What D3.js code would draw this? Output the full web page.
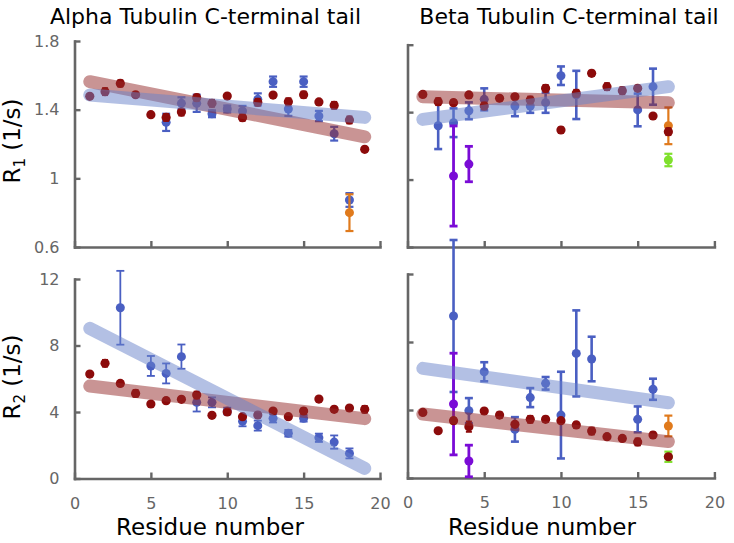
<!DOCTYPE html>
<html><head><meta charset="utf-8">
<script src="https://cdn.jsdelivr.net/npm/d3@7"></script>
<style>
body{margin:0;background:#fff}
svg{display:block}
text{font-family:"DejaVu Sans",Verdana,sans-serif}
</style>
</head><body>
<svg id="chart" width="734" height="543"></svg>
<script>
// ---------- DATA ----------
const xTicks = [0, 5, 10, 15, 20];
const r1Ticks = [0.6, 1, 1.4, 1.8];
const r2Ticks = [0, 4, 8, 12];

// Alpha R1
const aR1RedX = [1,2,3,4,5,6,7,8,9,10,11,12,13,14,15,16,17,18,19];
const aR1RedY = [1.478,1.505,1.553,1.487,1.371,1.355,1.386,1.470,1.437,1.479,1.353,1.443,1.485,1.446,1.487,1.445,1.425,1.340,1.169];
const aR1RedE = [0.01,0.02,0.018,0.01,0.01,0.02,0.02,0.018,0.02,0.01,0.018,0.02,0.01,0.02,0.018,0.01,0.02,0.02,0.01];
const aR1BlueX = [6,7,8,9,10,11,12,13,14,15,16,17,18];
const aR1BlueY = [1.326,1.437,1.437,1.376,1.404,1.392,1.460,1.563,1.404,1.563,1.363,1.260,0.874];
const aR1BlueE = [0.05,0.035,0.05,0.02,0.02,0.03,0.035,0.03,0.04,0.03,0.03,0.04,0.04];
const aR1OrangeX = [18];
const aR1OrangeY = [0.80];
const aR1OrangeE = [0.107];
const aR1FitX = [1, 19];
const aR1FitRed = [1.563, 1.242];
const aR1FitBlue = [1.485, 1.355];

// Beta R1
const bR1RedX = [1,2,3,4,5,6,7,8,9,10,11,12,13,14,15,16,17];
const bR1RedY = [1.505,1.462,1.456,1.502,1.436,1.482,1.491,1.472,1.541,1.294,1.512,1.630,1.551,1.527,1.541,1.377,1.284];
const bR1RedE = [0.015,0.02,0.015,0.01,0.02,0.01,0.015,0.02,0.02,0.015,0.02,0.015,0.02,0.02,0.015,0.01,0.02];
const bR1BlueX = [2,3,4,5,7,8,9,10,11,15,16];
const bR1BlueY = [1.319,1.337,1.408,1.476,1.436,1.436,1.456,1.616,1.502,1.413,1.551];
const bR1BlueE = [0.138,0.085,0.05,0.065,0.06,0.04,0.06,0.055,0.143,0.097,0.107];
const bR1PurpleX = [3,4];
const bR1PurpleY = [1.021,1.092];
const bR1PurpleE = [0.297,0.105];
const bR1OrangeX = [17];
const bR1OrangeY = [1.319];
const bR1OrangeE = [0.109];
const bR1GreenX = [17];
const bR1GreenY = [1.116];
const bR1GreenE = [0.037];
const bR1FitX = [1, 17];
const bR1FitRed = [1.491, 1.456];
const bR1FitBlue = [1.357, 1.551];

// Alpha R2
const aR2RedX = [1,2,3,4,5,6,7,8,9,10,11,12,13,14,15,16,17,18,19];
const aR2RedY = [6.28,6.93,5.72,5.12,4.48,4.68,4.76,5.02,3.80,4.00,3.72,3.82,4.06,3.72,4.06,4.78,4.16,4.24,4.16];
const aR2RedE = [0.1,0.2,0.15,0.2,0.1,0.15,0.1,0.2,0.1,0.1,0.1,0.15,0.1,0.1,0.15,0.1,0.15,0.1,0.2];
const aR2BlueX = [3,5,6,7,8,9,10,11,12,13,14,15,16,17,18];
const aR2BlueY = [10.27,6.77,6.32,7.33,4.58,4.58,4.06,3.44,3.18,3.62,2.72,3.62,2.45,2.19,1.51];
const aR2BlueE = [2.22,0.60,0.60,0.73,0.55,0.30,0.20,0.30,0.30,0.25,0.20,0.20,0.25,0.40,0.30];
const aR2FitX = [1, 19];
const aR2FitRed = [5.56, 3.60];
const aR2FitBlue = [9.03, 0.61];

// Beta R2
const bR2RedX = [1,2,3,4,5,6,7,8,9,10,11,12,13,14,15,16,17];
const bR2RedY = [3.86,2.78,3.37,3.02,3.94,3.70,3.16,3.45,3.45,3.37,3.12,2.76,2.43,2.33,2.12,2.53,1.25];
const bR2RedE = [0.1,0.1,0.15,0.3,0.1,0.15,0.1,0.2,0.15,0.1,0.15,0.2,0.1,0.1,0.2,0.15,0.1];
const bR2BlueX = [3,4,5,7,8,9,10,11,12,15,16];
const bR2BlueY = [9.53,3.96,6.25,2.86,4.73,5.57,3.70,7.33,7.00,3.45,5.22];
const bR2BlueE = [4.47,0.74,0.56,0.72,0.56,0.37,2.55,2.53,1.31,0.76,0.62];
const bR2PurpleX = [3,4];
const bR2PurpleY = [4.35,1.00];
const bR2PurpleE = [2.99,0.93];
const bR2OrangeX = [17];
const bR2OrangeY = [3.06];
const bR2OrangeE = [0.61];
const bR2GreenX = [17];
const bR2GreenY = [1.25];
const bR2GreenE = [0.30];
const bR2FitX = [1, 17];
const bR2FitRed = [3.76, 2.14];
const bR2FitBlue = [6.45, 4.43];

// ---------- STYLE ----------
const C = {
  red: "#8c0b0b", blue: "#4a5fc2", purple: "#7a0bd6", orange: "#e07a1c", green: "#7fe02c",
  bandRed: "#932929", bandBlue: "#6781c9", axis: "#666666"
};

const svg = d3.select("#chart");
const zip = (xs, ys, es) => xs.map((x, i) => ({x, y: ys[i], e: es ? es[i] : 0}));

function panel(cfg) {
  const x = d3.scaleLinear().domain([0, 20]).range(cfg.xr);
  const y = d3.scaleLinear().domain(cfg.yd).range(cfg.yr);
  const g = svg.append("g");

  const xa = d3.axisBottom(x).tickValues(xTicks).tickSizeInner(-6).tickSizeOuter(0).tickPadding(19)
    .tickFormat(cfg.xLabels ? d3.format("d") : () => "");
  const ya = d3.axisLeft(y).tickValues(cfg.yt).tickSizeInner(-6).tickSizeOuter(0).tickPadding(15)
    .tickFormat(cfg.yLabels ? (d => String(d)) : () => "");

  const gx = g.append("g").attr("transform", `translate(0,${cfg.yr[0]})`).call(xa);
  const gy = g.append("g").attr("transform", `translate(${cfg.xr[0]},0)`).call(ya);
  [gx, gy].forEach(a => {
    a.select(".domain").attr("stroke", C.axis).attr("stroke-width", 2.6).attr("stroke-linecap", "square");
    a.selectAll(".tick line").attr("stroke", C.axis).attr("stroke-width", 2.4);
    a.selectAll(".tick text").attr("fill", "#666").attr("font-size", 16)
      .attr("font-family", '"DejaVu Sans",Verdana,sans-serif');
  });

  const drawSeries = (pts, color, sw, r, cap) => {
    const s = g.append("g");
    pts.forEach(p => {
      if (p.e > 0) {
        s.append("line").attr("x1", x(p.x)).attr("x2", x(p.x))
          .attr("y1", y(p.y - p.e)).attr("y2", y(p.y + p.e))
          .attr("stroke", color).attr("stroke-width", sw);
        [p.y - p.e, p.y + p.e].forEach(v => {
          s.append("line").attr("x1", x(p.x) - cap).attr("x2", x(p.x) + cap)
            .attr("y1", y(v)).attr("y2", y(v))
            .attr("stroke", color).attr("stroke-width", sw);
        });
      }
      s.append("circle").attr("cx", x(p.x)).attr("cy", y(p.y)).attr("r", r).attr("fill", color);
    });
  };

  cfg.series.forEach(s => drawSeries(s.pts, s.color, s.sw || 2.2, s.r || 4.5, s.cap || 4));

  const line = d3.line().x(d => x(d.x)).y(d => y(d.y));
  cfg.fits.forEach(f => {
    g.append("path").datum(f.pts).attr("d", line)
      .attr("fill", "none").attr("stroke", f.color).attr("stroke-width", 13)
      .attr("stroke-linecap", "round").attr("stroke-opacity", 0.5);
  });
}

// Top-left: Alpha R1
panel({
  xr: [74.5, 380], yd: [0.6, 1.8], yr: [247, 41], yt: r1Ticks, xLabels: false, yLabels: true,
  series: [
    {pts: zip(aR1BlueX, aR1BlueY, aR1BlueE), color: C.blue},
    {pts: zip(aR1OrangeX, aR1OrangeY, aR1OrangeE), color: C.orange},
    {pts: zip(aR1RedX, aR1RedY, aR1RedE), color: C.red, r: 4.6, cap: 3, sw: 2}
  ],
  fits: [
    {pts: zip(aR1FitX, aR1FitRed), color: C.bandRed},
    {pts: zip(aR1FitX, aR1FitBlue), color: C.bandBlue}
  ]
});

// Top-right: Beta R1
panel({
  xr: [407.5, 714.4], yd: [0.6, 1.8], yr: [247, 44.7], yt: r1Ticks, xLabels: false, yLabels: false,
  series: [
    {pts: zip(bR1BlueX, bR1BlueY, bR1BlueE), color: C.blue, sw: 2.6},
    {pts: zip(bR1PurpleX, bR1PurpleY, bR1PurpleE), color: C.purple, sw: 2.8},
    {pts: zip(bR1OrangeX, bR1OrangeY, bR1OrangeE), color: C.orange},
    {pts: zip(bR1GreenX, bR1GreenY, bR1GreenE), color: C.green},
    {pts: zip(bR1RedX, bR1RedY, bR1RedE), color: C.red, r: 4.6, cap: 3, sw: 2}
  ],
  fits: [
    {pts: zip(bR1FitX, bR1FitRed), color: C.bandRed},
    {pts: zip(bR1FitX, bR1FitBlue), color: C.bandBlue}
  ]
});

// Bottom-left: Alpha R2
panel({
  xr: [74.5, 380], yd: [0, 12], yr: [478.5, 279], yt: r2Ticks, xLabels: true, yLabels: true,
  series: [
    {pts: zip(aR2BlueX, aR2BlueY, aR2BlueE), color: C.blue, sw: 1.8},
    {pts: zip(aR2RedX, aR2RedY, aR2RedE), color: C.red, r: 4.6, cap: 3, sw: 2}
  ],
  fits: [
    {pts: zip(aR2FitX, aR2FitRed), color: C.bandRed},
    {pts: zip(aR2FitX, aR2FitBlue), color: C.bandBlue}
  ]
});

// Bottom-right: Beta R2
panel({
  xr: [407.5, 714.4], yd: [0, 12], yr: [478, 274], yt: r2Ticks, xLabels: true, yLabels: false,
  series: [
    {pts: zip(bR2BlueX, bR2BlueY, bR2BlueE), color: C.blue, sw: 2.6},
    {pts: zip(bR2PurpleX, bR2PurpleY, bR2PurpleE), color: C.purple, sw: 2.8},
    {pts: zip(bR2OrangeX, bR2OrangeY, bR2OrangeE), color: C.orange},
    {pts: zip(bR2GreenX, bR2GreenY, bR2GreenE), color: C.green},
    {pts: zip(bR2RedX, bR2RedY, bR2RedE), color: C.red, r: 4.6, cap: 3, sw: 2}
  ],
  fits: [
    {pts: zip(bR2FitX, bR2FitRed), color: C.bandRed},
    {pts: zip(bR2FitX, bR2FitBlue), color: C.bandBlue}
  ]
});

// ---------- TEXT ----------
svg.append("text").attr("x", 205.5).attr("y", 24).attr("text-anchor", "middle")
  .attr("font-size", 22).attr("fill", "#000").text("Alpha Tubulin C-terminal tail");
svg.append("text").attr("x", 569).attr("y", 24).attr("text-anchor", "middle")
  .attr("font-size", 22).attr("fill", "#000").text("Beta Tubulin C-terminal tail");

[[210, "Residue number"], [542, "Residue number"]].forEach(([cx, t]) => {
  svg.append("text").attr("x", cx).attr("y", 535).attr("text-anchor", "middle")
    .attr("font-size", 23).attr("fill", "#000").text(t);
});

function yTitle(cy, sub) {
  const t = svg.append("text").attr("transform", `translate(20,${cy}) rotate(-90)`)
    .attr("text-anchor", "middle").attr("font-size", 23).attr("fill", "#000");
  t.append("tspan").text("R");
  t.append("tspan").attr("font-size", 15).attr("dy", 5).text(sub);
  t.append("tspan").attr("dy", -5).text(" (1/s)");
}
yTitle(141, "1");
yTitle(377, "2");
</script>
</body></html>
